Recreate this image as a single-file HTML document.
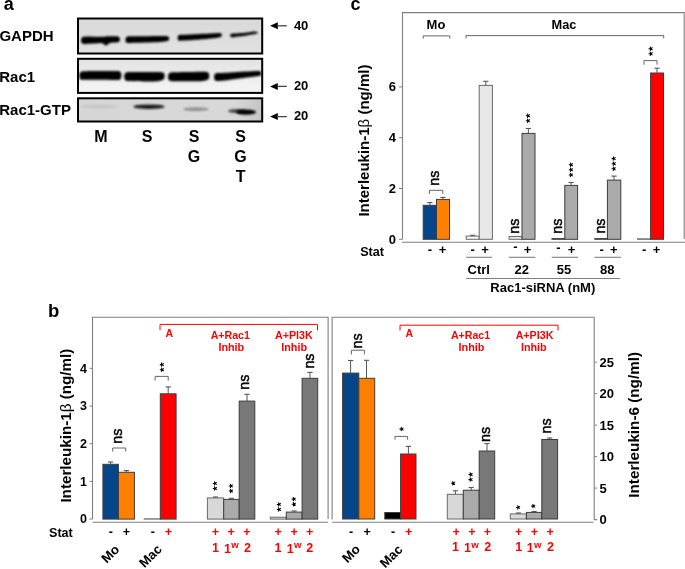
<!DOCTYPE html>
<html><head><meta charset="utf-8"><style>
html,body{margin:0;padding:0;background:#fff;overflow:hidden;}
svg{display:block;will-change:transform;}
text{font-family:"Liberation Sans", sans-serif;}
</style></head><body>
<svg width="685" height="569" viewBox="0 0 685 569">
<rect width="685" height="569" fill="#fff"/>
<text x="3.70" y="9.90" font-size="18" font-weight="bold" text-anchor="start" fill="#000" >a</text>
<text x="-0.60" y="41.30" font-size="15" font-weight="bold" text-anchor="start" fill="#000" >GAPDH</text>
<text x="-0.80" y="81.50" font-size="15" font-weight="bold" text-anchor="start" fill="#000" >Rac1</text>
<text x="-0.80" y="115.10" font-size="15" font-weight="bold" text-anchor="start" fill="#000" >Rac1-GTP</text>
<defs><filter id="bl" x="-20%" y="-50%" width="140%" height="200%"><feGaussianBlur stdDeviation="0.8"/></filter><filter id="bl2" x="-20%" y="-80%" width="140%" height="260%"><feGaussianBlur stdDeviation="1.3"/></filter><linearGradient id="g1" x1="0" y1="0" x2="0" y2="1"><stop offset="0" stop-color="#d8d8d8"/><stop offset="1" stop-color="#e2e2e2"/></linearGradient><linearGradient id="g2" x1="0" y1="0" x2="0" y2="1"><stop offset="0" stop-color="#e2e2e2"/><stop offset="1" stop-color="#f5f5f5"/></linearGradient><linearGradient id="g3" x1="0" y1="0" x2="1" y2="0"><stop offset="0" stop-color="#d6d6d6"/><stop offset="0.85" stop-color="#d8d8d8"/><stop offset="1" stop-color="#c4c4c4"/></linearGradient></defs>
<rect x="78" y="18.5" width="184.2" height="35" fill="url(#g1)" stroke="#000" stroke-width="2"/>
<rect x="78" y="58.8" width="184.2" height="34.1" fill="url(#g2)" stroke="#000" stroke-width="2"/>
<rect x="78" y="98.3" width="184.2" height="23.2" fill="url(#g3)" stroke="#000" stroke-width="2"/>
<path d="M81.00,40.40 C81.00,39.33 81.47,37.85 82.30,37.20 C83.13,36.55 83.88,36.58 86.00,36.50 C88.12,36.42 92.33,36.65 95.00,36.70 C97.67,36.75 100.17,36.85 102.00,36.80 C103.83,36.75 104.67,36.48 106.00,36.40 C107.33,36.32 108.33,36.32 110.00,36.30 C111.67,36.28 114.50,36.18 116.00,36.30 C117.50,36.42 118.33,36.50 119.00,37.00 C119.67,37.50 120.00,38.50 120.00,39.30 C120.00,40.10 119.67,41.25 119.00,41.80 C118.33,42.35 117.50,42.40 116.00,42.60 C114.50,42.80 111.67,42.50 110.00,43.00 C108.33,43.50 107.33,45.57 106.00,45.60 C104.67,45.63 103.83,43.53 102.00,43.20 C100.17,42.87 97.67,43.47 95.00,43.60 C92.33,43.73 88.12,44.00 86.00,44.00 C83.88,44.00 83.13,44.20 82.30,43.60 C81.47,43.00 81.00,41.47 81.00,40.40 Z" fill="#000" filter="url(#bl)" opacity="1"/>
<path d="M125.40,39.90 C125.40,38.90 125.87,37.40 126.80,36.80 C127.73,36.20 127.97,36.40 131.00,36.30 C134.03,36.20 140.17,36.25 145.00,36.20 C149.83,36.15 156.25,35.98 160.00,36.00 C163.75,36.02 165.97,35.87 167.50,36.30 C169.03,36.73 169.20,37.80 169.20,38.60 C169.20,39.40 169.03,40.55 167.50,41.10 C165.97,41.65 163.75,41.67 160.00,41.90 C156.25,42.13 149.83,42.33 145.00,42.50 C140.17,42.67 134.03,42.85 131.00,42.90 C127.97,42.95 127.73,43.30 126.80,42.80 C125.87,42.30 125.40,40.90 125.40,39.90 Z" fill="#000" filter="url(#bl)" opacity="1"/>
<path d="M177.60,37.90 C177.60,36.97 178.10,35.62 179.00,35.10 C179.90,34.58 179.50,35.00 183.00,34.80 C186.50,34.60 194.50,34.17 200.00,33.90 C205.50,33.63 212.58,33.32 216.00,33.20 C219.42,33.08 219.50,32.88 220.50,33.20 C221.50,33.52 222.00,34.45 222.00,35.10 C222.00,35.75 221.50,36.63 220.50,37.10 C219.50,37.57 219.42,37.52 216.00,37.90 C212.58,38.28 205.50,38.95 200.00,39.40 C194.50,39.85 186.50,40.38 183.00,40.60 C179.50,40.82 179.90,41.15 179.00,40.70 C178.10,40.25 177.60,38.83 177.60,37.90 Z" fill="#000" filter="url(#bl)" opacity="1"/>
<path d="M230.10,35.40 C230.10,34.82 230.58,34.03 231.40,33.70 C232.22,33.37 232.23,33.62 235.00,33.40 C237.77,33.18 244.67,32.70 248.00,32.40 C251.33,32.10 253.35,31.55 255.00,31.60 C256.65,31.65 257.90,32.28 257.90,32.70 C257.90,33.12 256.65,33.67 255.00,34.10 C253.35,34.53 251.33,34.82 248.00,35.30 C244.67,35.78 237.77,36.68 235.00,37.00 C232.23,37.32 232.22,37.47 231.40,37.20 C230.58,36.93 230.10,35.98 230.10,35.40 Z" fill="#000" filter="url(#bl)" opacity="1"/>
<path d="M79.30,75.60 C79.30,74.40 79.55,72.92 80.50,72.20 C81.45,71.48 81.75,71.48 85.00,71.30 C88.25,71.12 95.00,71.15 100.00,71.10 C105.00,71.05 111.67,70.92 115.00,71.00 C118.33,71.08 118.93,70.85 120.00,71.60 C121.07,72.35 121.40,74.17 121.40,75.50 C121.40,76.83 121.07,78.85 120.00,79.60 C118.93,80.35 118.33,79.97 115.00,80.00 C111.67,80.03 105.00,79.83 100.00,79.80 C95.00,79.77 88.25,79.87 85.00,79.80 C81.75,79.73 81.45,80.10 80.50,79.40 C79.55,78.70 79.30,76.80 79.30,75.60 Z" fill="#000" filter="url(#bl)" opacity="1"/>
<path d="M124.20,76.50 C124.20,75.28 124.53,73.65 125.50,72.90 C126.47,72.15 126.75,72.17 130.00,72.00 C133.25,71.83 140.33,71.90 145.00,71.90 C149.67,71.90 154.93,71.85 158.00,72.00 C161.07,72.15 162.30,72.13 163.40,72.80 C164.50,73.47 164.60,74.87 164.60,76.00 C164.60,77.13 164.50,78.73 163.40,79.60 C162.30,80.47 161.07,80.90 158.00,81.20 C154.93,81.50 149.67,81.43 145.00,81.40 C140.33,81.37 133.25,81.20 130.00,81.00 C126.75,80.80 126.47,80.95 125.50,80.20 C124.53,79.45 124.20,77.72 124.20,76.50 Z" fill="#000" filter="url(#bl)" opacity="1"/>
<path d="M168.00,76.80 C168.00,75.57 168.30,73.95 169.30,73.20 C170.30,72.45 170.55,72.50 174.00,72.30 C177.45,72.10 185.17,72.08 190.00,72.00 C194.83,71.92 200.00,71.73 203.00,71.80 C206.00,71.87 206.95,71.73 208.00,72.40 C209.05,73.07 209.30,74.60 209.30,75.80 C209.30,77.00 209.05,78.75 208.00,79.60 C206.95,80.45 206.00,80.62 203.00,80.90 C200.00,81.18 194.83,81.23 190.00,81.30 C185.17,81.37 177.45,81.42 174.00,81.30 C170.55,81.18 170.30,81.35 169.30,80.60 C168.30,79.85 168.00,78.03 168.00,76.80 Z" fill="#000" filter="url(#bl)" opacity="1"/>
<path d="M214.10,77.00 C214.10,75.87 214.32,74.27 215.30,73.60 C216.28,72.93 217.55,73.18 220.00,73.00 C222.45,72.82 225.83,72.73 230.00,72.50 C234.17,72.27 240.50,71.85 245.00,71.60 C249.50,71.35 254.42,71.03 257.00,71.00 C259.58,70.97 259.78,71.00 260.50,71.40 C261.22,71.80 261.30,72.70 261.30,73.40 C261.30,74.10 261.22,75.12 260.50,75.60 C259.78,76.08 259.58,75.93 257.00,76.30 C254.42,76.67 249.50,77.22 245.00,77.80 C240.50,78.38 234.17,79.28 230.00,79.80 C225.83,80.32 222.45,80.80 220.00,80.90 C217.55,81.00 216.28,81.05 215.30,80.40 C214.32,79.75 214.10,78.13 214.10,77.00 Z" fill="#000" filter="url(#bl)" opacity="1"/>
<ellipse cx="99" cy="106.6" rx="19" ry="2.0" fill="#b0b0b0" filter="url(#bl2)" opacity="0.4"/>
<ellipse cx="149" cy="106.7" rx="15.5" ry="2.3" fill="#111" filter="url(#bl2)" opacity="0.95"/>
<ellipse cx="196" cy="109.2" rx="12.5" ry="1.9" fill="#808080" filter="url(#bl2)" opacity="0.8"/>
<ellipse cx="237" cy="111.0" rx="9" ry="2.0" fill="#3a3a3a" filter="url(#bl2)" opacity="0.9"/>
<ellipse cx="246" cy="112.2" rx="10" ry="2.6" fill="#000" filter="url(#bl2)"/>
<path d="M270.1,25.8 L277.8,22.3 L277.8,29.3 Z" fill="#000"/>
<line x1="277" y1="25.8" x2="286.8" y2="25.8" stroke="#444" stroke-width="1.3"/>
<text x="293.90" y="29.70" font-size="13" font-weight="bold" text-anchor="start" fill="#000" >40</text>
<path d="M270.1,86.4 L277.8,82.9 L277.8,89.9 Z" fill="#000"/>
<line x1="277" y1="86.4" x2="286.8" y2="86.4" stroke="#444" stroke-width="1.3"/>
<text x="293.90" y="89.60" font-size="13" font-weight="bold" text-anchor="start" fill="#000" >20</text>
<path d="M270.1,116.6 L277.8,113.1 L277.8,120.1 Z" fill="#000"/>
<line x1="277" y1="116.6" x2="286.8" y2="116.6" stroke="#444" stroke-width="1.3"/>
<text x="293.90" y="120.20" font-size="13" font-weight="bold" text-anchor="start" fill="#000" >20</text>
<text x="101.00" y="142.20" font-size="16" font-weight="bold" text-anchor="middle" fill="#000" >M</text>
<text x="147.20" y="142.20" font-size="16" font-weight="bold" text-anchor="middle" fill="#000" >S</text>
<text x="194.00" y="142.20" font-size="16" font-weight="bold" text-anchor="middle" fill="#000" >S</text>
<text x="194.00" y="162.20" font-size="16" font-weight="bold" text-anchor="middle" fill="#000" >G</text>
<text x="240.60" y="142.20" font-size="16" font-weight="bold" text-anchor="middle" fill="#000" >S</text>
<text x="240.60" y="162.20" font-size="16" font-weight="bold" text-anchor="middle" fill="#000" >G</text>
<text x="240.60" y="182.20" font-size="16" font-weight="bold" text-anchor="middle" fill="#000" >T</text>
<text x="350.40" y="9.90" font-size="18" font-weight="bold" text-anchor="start" fill="#000" >c</text>
<path d="M402.5,239.3 V12.6 H684.2 V239" fill="none" stroke="#808080" stroke-width="1.1"/>
<line x1="402" y1="242.2" x2="685" y2="242.2" stroke="#808080" stroke-width="1.1"/>
<line x1="399" y1="239.3" x2="402.5" y2="239.3" stroke="#808080" stroke-width="1"/>
<text x="396.00" y="243.70" font-size="13" font-weight="bold" text-anchor="end" fill="#000" >0</text>
<line x1="399" y1="188.5" x2="402.5" y2="188.5" stroke="#808080" stroke-width="1"/>
<text x="396.00" y="192.90" font-size="13" font-weight="bold" text-anchor="end" fill="#000" >2</text>
<line x1="399" y1="137.70000000000002" x2="402.5" y2="137.70000000000002" stroke="#808080" stroke-width="1"/>
<text x="396.00" y="142.10" font-size="13" font-weight="bold" text-anchor="end" fill="#000" >4</text>
<line x1="399" y1="86.90000000000003" x2="402.5" y2="86.90000000000003" stroke="#808080" stroke-width="1"/>
<text x="396.00" y="91.30" font-size="13" font-weight="bold" text-anchor="end" fill="#000" >6</text>
<text transform="translate(368.90,216.60) rotate(-90)" font-size="15" font-weight="bold" text-anchor="start" fill="#000" >Interleukin-1<tspan font-weight="normal">β</tspan> (ng/ml)</text>
<rect x="423.2" y="205.3" width="13.30" height="34.00" fill="#064589" stroke="#3c3c3c" stroke-width="1"/>
<rect x="436.5" y="199.4" width="13.00" height="39.90" fill="#ff8000" stroke="#3c3c3c" stroke-width="1"/>
<rect x="466.2" y="236.1" width="13.00" height="3.20" fill="#f8f8f8" stroke="#6a6a6a" stroke-width="1"/>
<rect x="479.2" y="85.4" width="13.20" height="153.90" fill="#e8e8e8" stroke="#6a6a6a" stroke-width="1"/>
<rect x="509.1" y="236.5" width="12.90" height="2.80" fill="#e8e8e8" stroke="#6a6a6a" stroke-width="1"/>
<rect x="522.0" y="133.4" width="13.00" height="105.90" fill="#aaaaaa" stroke="#3c3c3c" stroke-width="1"/>
<rect x="552.0" y="238.6" width="12.80" height="0.70" fill="#aaaaaa" stroke="#3c3c3c" stroke-width="1"/>
<rect x="564.8" y="185.4" width="12.80" height="53.90" fill="#aaaaaa" stroke="#3c3c3c" stroke-width="1"/>
<rect x="594.8" y="238.6" width="12.60" height="0.70" fill="#aaaaaa" stroke="#3c3c3c" stroke-width="1"/>
<rect x="607.4" y="180.1" width="13.40" height="59.20" fill="#aaaaaa" stroke="#3c3c3c" stroke-width="1"/>
<rect x="637.5" y="238.8" width="13.10" height="0.50" fill="#eeeeee" stroke="#6a6a6a" stroke-width="1"/>
<rect x="650.6" y="73.0" width="12.90" height="166.30" fill="#ff0000" stroke="#3c3c3c" stroke-width="1"/>
<line x1="429.9" y1="205.3" x2="429.9" y2="202.5" stroke="#555" stroke-width="1"/>
<line x1="427.29999999999995" y1="202.5" x2="432.5" y2="202.5" stroke="#555" stroke-width="1.1"/>
<line x1="442.9" y1="199.4" x2="442.9" y2="197.4" stroke="#555" stroke-width="1"/>
<line x1="440.29999999999995" y1="197.4" x2="445.5" y2="197.4" stroke="#555" stroke-width="1.1"/>
<line x1="485.8" y1="85.4" x2="485.8" y2="81.3" stroke="#555" stroke-width="1"/>
<line x1="483.2" y1="81.3" x2="488.40000000000003" y2="81.3" stroke="#555" stroke-width="1.1"/>
<line x1="528.4" y1="133.4" x2="528.4" y2="128.5" stroke="#555" stroke-width="1"/>
<line x1="525.8" y1="128.5" x2="531.0" y2="128.5" stroke="#555" stroke-width="1.1"/>
<line x1="571.0" y1="185.4" x2="571.0" y2="182.5" stroke="#555" stroke-width="1"/>
<line x1="568.4" y1="182.5" x2="573.6" y2="182.5" stroke="#555" stroke-width="1.1"/>
<line x1="614.0" y1="180.1" x2="614.0" y2="176.1" stroke="#555" stroke-width="1"/>
<line x1="611.4" y1="176.1" x2="616.6" y2="176.1" stroke="#555" stroke-width="1.1"/>
<line x1="657.0" y1="73.0" x2="657.0" y2="68.2" stroke="#555" stroke-width="1"/>
<line x1="654.4" y1="68.2" x2="659.6" y2="68.2" stroke="#555" stroke-width="1.1"/>
<line x1="472.7" y1="236.1" x2="472.7" y2="235.3" stroke="#555" stroke-width="1"/>
<line x1="470.09999999999997" y1="235.3" x2="475.3" y2="235.3" stroke="#555" stroke-width="1.1"/>
<text x="436.00" y="28.90" font-size="13" font-weight="bold" text-anchor="middle" fill="#000" >Mo</text>
<path d="M423.2,38.6 V35.9 H449.8 V38.6" fill="none" stroke="#666" stroke-width="1"/>
<text x="564.00" y="29.00" font-size="12.8" font-weight="bold" text-anchor="middle" fill="#000" >Mac</text>
<path d="M466,38.4 V35.6 H663.7 V38.4" fill="none" stroke="#666" stroke-width="1"/>
<path d="M429.4,194 V190.3 H442.8 V194" fill="none" stroke="#666" stroke-width="1"/>
<text transform="translate(439.15,185.64) rotate(-90)" font-size="14.2" font-weight="normal" text-anchor="start" fill="#000" stroke="#000" stroke-width="0.45">ns</text>
<text transform="translate(518.75,233.74) rotate(-90)" font-size="14.2" font-weight="normal" text-anchor="start" fill="#000" stroke="#000" stroke-width="0.45">ns</text>
<text transform="translate(562.45,233.74) rotate(-90)" font-size="14.2" font-weight="normal" text-anchor="start" fill="#000" stroke="#000" stroke-width="0.45">ns</text>
<text transform="translate(605.45,233.54) rotate(-90)" font-size="14.2" font-weight="normal" text-anchor="start" fill="#000" stroke="#000" stroke-width="0.45">ns</text>
<path d="M528.00,120.80 L525.80,120.80 M528.00,120.80 L527.32,118.71 M528.00,120.80 L529.78,119.51 M528.00,120.80 L529.78,122.09 M528.00,120.80 L527.32,122.89 M528.00,115.70 L525.80,115.70 M528.00,115.70 L527.32,113.61 M528.00,115.70 L529.78,114.41 M528.00,115.70 L529.78,116.99 M528.00,115.70 L527.32,117.79 " stroke="#000" stroke-width="1.05" stroke-linecap="butt" fill="none"/>
<path d="M571.00,174.90 L568.80,174.90 M571.00,174.90 L570.32,172.81 M571.00,174.90 L572.78,173.61 M571.00,174.90 L572.78,176.19 M571.00,174.90 L570.32,176.99 M571.00,169.80 L568.80,169.80 M571.00,169.80 L570.32,167.71 M571.00,169.80 L572.78,168.51 M571.00,169.80 L572.78,171.09 M571.00,169.80 L570.32,171.89 M571.00,164.70 L568.80,164.70 M571.00,164.70 L570.32,162.61 M571.00,164.70 L572.78,163.41 M571.00,164.70 L572.78,165.99 M571.00,164.70 L570.32,166.79 " stroke="#000" stroke-width="1.05" stroke-linecap="butt" fill="none"/>
<path d="M613.80,168.80 L611.60,168.80 M613.80,168.80 L613.12,166.71 M613.80,168.80 L615.58,167.51 M613.80,168.80 L615.58,170.09 M613.80,168.80 L613.12,170.89 M613.80,163.70 L611.60,163.70 M613.80,163.70 L613.12,161.61 M613.80,163.70 L615.58,162.41 M613.80,163.70 L615.58,164.99 M613.80,163.70 L613.12,165.79 M613.80,158.60 L611.60,158.60 M613.80,158.60 L613.12,156.51 M613.80,158.60 L615.58,157.31 M613.80,158.60 L615.58,159.89 M613.80,158.60 L613.12,160.69 " stroke="#000" stroke-width="1.05" stroke-linecap="butt" fill="none"/>
<path d="M650.75,53.80 L648.55,53.80 M650.75,53.80 L650.07,51.71 M650.75,53.80 L652.53,52.51 M650.75,53.80 L652.53,55.09 M650.75,53.80 L650.07,55.89 M650.75,48.70 L648.55,48.70 M650.75,48.70 L650.07,46.61 M650.75,48.70 L652.53,47.41 M650.75,48.70 L652.53,49.99 M650.75,48.70 L650.07,50.79 " stroke="#000" stroke-width="1.05" stroke-linecap="butt" fill="none"/>
<path d="M644,64.7 V60.6 H657 V64.7" fill="none" stroke="#666" stroke-width="1"/>
<text x="360.20" y="256.40" font-size="12.6" font-weight="bold" text-anchor="start" fill="#000" >Stat</text>
<text x="430.00" y="253.50" font-size="13" font-weight="bold" text-anchor="middle" fill="#000" >-</text>
<text x="442.50" y="253.80" font-size="13" font-weight="bold" text-anchor="middle" fill="#000" >+</text>
<text x="472.70" y="253.50" font-size="13" font-weight="bold" text-anchor="middle" fill="#000" >-</text>
<text x="485.00" y="253.80" font-size="13" font-weight="bold" text-anchor="middle" fill="#000" >+</text>
<text x="515.50" y="251.00" font-size="13" font-weight="bold" text-anchor="middle" fill="#000" >-</text>
<text x="527.60" y="253.80" font-size="13" font-weight="bold" text-anchor="middle" fill="#000" >+</text>
<text x="558.40" y="251.50" font-size="13" font-weight="bold" text-anchor="middle" fill="#000" >-</text>
<text x="571.60" y="253.80" font-size="13" font-weight="bold" text-anchor="middle" fill="#000" >+</text>
<text x="601.60" y="253.50" font-size="13" font-weight="bold" text-anchor="middle" fill="#000" >-</text>
<text x="613.90" y="253.80" font-size="13" font-weight="bold" text-anchor="middle" fill="#000" >+</text>
<text x="644.20" y="253.50" font-size="13" font-weight="bold" text-anchor="middle" fill="#000" >-</text>
<text x="656.50" y="253.80" font-size="13" font-weight="bold" text-anchor="middle" fill="#000" >+</text>
<line x1="466.2" y1="257.3" x2="492.1" y2="257.3" stroke="#808080" stroke-width="1.1"/>
<line x1="508.7" y1="257.3" x2="535.4" y2="257.3" stroke="#808080" stroke-width="1.1"/>
<line x1="551.7" y1="257.3" x2="578.1" y2="257.3" stroke="#808080" stroke-width="1.1"/>
<line x1="594.5" y1="257.3" x2="620.9" y2="257.3" stroke="#808080" stroke-width="1.1"/>
<text x="478.80" y="274.00" font-size="13" font-weight="bold" text-anchor="middle" fill="#000" >Ctrl</text>
<text x="521.80" y="274.00" font-size="13" font-weight="bold" text-anchor="middle" fill="#000" >22</text>
<text x="564.00" y="274.00" font-size="13" font-weight="bold" text-anchor="middle" fill="#000" >55</text>
<text x="607.30" y="274.00" font-size="13" font-weight="bold" text-anchor="middle" fill="#000" >88</text>
<line x1="466.2" y1="278.5" x2="620.2" y2="278.5" stroke="#808080" stroke-width="1.1"/>
<text x="542.80" y="292.20" font-size="13" font-weight="bold" text-anchor="middle" fill="#000" >Rac1-siRNA (nM)</text>
<text x="47.90" y="316.60" font-size="18.5" font-weight="bold" text-anchor="start" fill="#000" >b</text>
<path d="M92.5,519.1 V317.3 H328.1 V519.1" fill="none" stroke="#808080" stroke-width="1.1"/>
<line x1="92.5" y1="522.3" x2="328.1" y2="522.3" stroke="#808080" stroke-width="1.1"/>
<line x1="89.5" y1="519.1" x2="92.5" y2="519.1" stroke="#808080" stroke-width="1"/>
<text x="87.00" y="523.40" font-size="12.5" font-weight="bold" text-anchor="end" fill="#000" >0</text>
<line x1="89.5" y1="481.40000000000003" x2="92.5" y2="481.40000000000003" stroke="#808080" stroke-width="1"/>
<text x="87.00" y="485.70" font-size="12.5" font-weight="bold" text-anchor="end" fill="#000" >1</text>
<line x1="89.5" y1="443.70000000000005" x2="92.5" y2="443.70000000000005" stroke="#808080" stroke-width="1"/>
<text x="87.00" y="448.00" font-size="12.5" font-weight="bold" text-anchor="end" fill="#000" >2</text>
<line x1="89.5" y1="406.0" x2="92.5" y2="406.0" stroke="#808080" stroke-width="1"/>
<text x="87.00" y="410.30" font-size="12.5" font-weight="bold" text-anchor="end" fill="#000" >3</text>
<line x1="89.5" y1="368.3" x2="92.5" y2="368.3" stroke="#808080" stroke-width="1"/>
<text x="87.00" y="372.60" font-size="12.5" font-weight="bold" text-anchor="end" fill="#000" >4</text>
<text transform="translate(71.10,502.60) rotate(-90)" font-size="15.2" font-weight="bold" text-anchor="start" fill="#000" >Interleukin-1<tspan font-weight="normal">β</tspan> (ng/ml)</text>
<rect x="102.9" y="464.3" width="15.50" height="54.80" fill="#064589" stroke="#3c3c3c" stroke-width="1"/>
<rect x="118.4" y="472.3" width="16.00" height="46.80" fill="#ff8000" stroke="#3c3c3c" stroke-width="1"/>
<rect x="144.2" y="518.8" width="16.10" height="0.30" fill="#eeeeee" stroke="#6a6a6a" stroke-width="1"/>
<rect x="160.3" y="393.8" width="15.80" height="125.30" fill="#ff0000" stroke="#3c3c3c" stroke-width="1"/>
<rect x="207.4" y="497.9" width="16.30" height="21.20" fill="#d8d8d8" stroke="#6a6a6a" stroke-width="1"/>
<rect x="223.7" y="499.4" width="15.50" height="19.70" fill="#aaaaaa" stroke="#3c3c3c" stroke-width="1"/>
<rect x="239.2" y="401.1" width="15.60" height="118.00" fill="#787878" stroke="#3c3c3c" stroke-width="1"/>
<rect x="270.3" y="517.2" width="16.00" height="1.90" fill="#d8d8d8" stroke="#6a6a6a" stroke-width="1"/>
<rect x="286.3" y="512.1" width="15.80" height="7.00" fill="#aaaaaa" stroke="#3c3c3c" stroke-width="1"/>
<rect x="302.1" y="378.3" width="15.60" height="140.80" fill="#787878" stroke="#3c3c3c" stroke-width="1"/>
<line x1="110.6" y1="464.3" x2="110.6" y2="462.0" stroke="#555" stroke-width="1"/>
<line x1="108.0" y1="462.0" x2="113.19999999999999" y2="462.0" stroke="#555" stroke-width="1.1"/>
<line x1="126.4" y1="472.3" x2="126.4" y2="470.6" stroke="#555" stroke-width="1"/>
<line x1="123.80000000000001" y1="470.6" x2="129.0" y2="470.6" stroke="#555" stroke-width="1.1"/>
<line x1="168.2" y1="393.8" x2="168.2" y2="386.9" stroke="#555" stroke-width="1"/>
<line x1="165.6" y1="386.9" x2="170.79999999999998" y2="386.9" stroke="#555" stroke-width="1.1"/>
<line x1="247.0" y1="401.1" x2="247.0" y2="394.3" stroke="#555" stroke-width="1"/>
<line x1="244.4" y1="394.3" x2="249.6" y2="394.3" stroke="#555" stroke-width="1.1"/>
<line x1="310.0" y1="378.3" x2="310.0" y2="372.4" stroke="#555" stroke-width="1"/>
<line x1="307.4" y1="372.4" x2="312.6" y2="372.4" stroke="#555" stroke-width="1.1"/>
<line x1="215.5" y1="497.9" x2="215.5" y2="497.0" stroke="#555" stroke-width="1"/>
<line x1="212.9" y1="497.0" x2="218.1" y2="497.0" stroke="#555" stroke-width="1.1"/>
<line x1="231.4" y1="499.4" x2="231.4" y2="498.3" stroke="#555" stroke-width="1"/>
<line x1="228.8" y1="498.3" x2="234.0" y2="498.3" stroke="#555" stroke-width="1.1"/>
<line x1="294.2" y1="512.1" x2="294.2" y2="511.0" stroke="#555" stroke-width="1"/>
<line x1="291.59999999999997" y1="511.0" x2="296.8" y2="511.0" stroke="#555" stroke-width="1.1"/>
<path d="M112.7,451.6 V448 H125.7 V451.6" fill="none" stroke="#666" stroke-width="1"/>
<text transform="translate(121.85,443.64) rotate(-90)" font-size="14.2" font-weight="normal" text-anchor="start" fill="#000" stroke="#000" stroke-width="0.45">ns</text>
<path d="M155.1,380.6 V376.4 H168.2 V380.6" fill="none" stroke="#666" stroke-width="1"/>
<path d="M162.00,369.70 L159.80,369.70 M162.00,369.70 L161.32,367.61 M162.00,369.70 L163.78,368.41 M162.00,369.70 L163.78,370.99 M162.00,369.70 L161.32,371.79 M162.00,364.60 L159.80,364.60 M162.00,364.60 L161.32,362.51 M162.00,364.60 L163.78,363.31 M162.00,364.60 L163.78,365.89 M162.00,364.60 L161.32,366.69 " stroke="#000" stroke-width="1.05" stroke-linecap="butt" fill="none"/>
<path d="M215.00,488.50 L212.80,488.50 M215.00,488.50 L214.32,486.41 M215.00,488.50 L216.78,487.21 M215.00,488.50 L216.78,489.79 M215.00,488.50 L214.32,490.59 M215.00,483.40 L212.80,483.40 M215.00,483.40 L214.32,481.31 M215.00,483.40 L216.78,482.11 M215.00,483.40 L216.78,484.69 M215.00,483.40 L214.32,485.49 " stroke="#000" stroke-width="1.05" stroke-linecap="butt" fill="none"/>
<path d="M231.00,491.00 L228.80,491.00 M231.00,491.00 L230.32,488.91 M231.00,491.00 L232.78,489.71 M231.00,491.00 L232.78,492.29 M231.00,491.00 L230.32,493.09 M231.00,485.90 L228.80,485.90 M231.00,485.90 L230.32,483.81 M231.00,485.90 L232.78,484.61 M231.00,485.90 L232.78,487.19 M231.00,485.90 L230.32,487.99 " stroke="#000" stroke-width="1.05" stroke-linecap="butt" fill="none"/>
<text transform="translate(249.45,389.64) rotate(-90)" font-size="14.2" font-weight="normal" text-anchor="start" fill="#000" stroke="#000" stroke-width="0.45">ns</text>
<path d="M279.00,509.50 L276.80,509.50 M279.00,509.50 L278.32,507.41 M279.00,509.50 L280.78,508.21 M279.00,509.50 L280.78,510.79 M279.00,509.50 L278.32,511.59 M279.00,504.40 L276.80,504.40 M279.00,504.40 L278.32,502.31 M279.00,504.40 L280.78,503.11 M279.00,504.40 L280.78,505.69 M279.00,504.40 L278.32,506.49 " stroke="#000" stroke-width="1.05" stroke-linecap="butt" fill="none"/>
<path d="M293.90,504.20 L291.70,504.20 M293.90,504.20 L293.22,502.11 M293.90,504.20 L295.68,502.91 M293.90,504.20 L295.68,505.49 M293.90,504.20 L293.22,506.29 M293.90,499.10 L291.70,499.10 M293.90,499.10 L293.22,497.01 M293.90,499.10 L295.68,497.81 M293.90,499.10 L295.68,500.39 M293.90,499.10 L293.22,501.19 " stroke="#000" stroke-width="1.05" stroke-linecap="butt" fill="none"/>
<text transform="translate(313.65,368.54) rotate(-90)" font-size="14.2" font-weight="normal" text-anchor="start" fill="#000" stroke="#000" stroke-width="0.45">ns</text>
<path d="M160,330.1 V324.4 H317.5 V330.1" fill="none" stroke="#ff0000" stroke-width="1"/>
<text x="169.20" y="336.50" font-size="10.5" font-weight="bold" text-anchor="middle" fill="#ff0000" >A</text>
<text x="230.30" y="338.60" font-size="10.6" font-weight="bold" text-anchor="middle" fill="#ff0000" >A+Rac1</text>
<text x="231.30" y="350.90" font-size="10.8" font-weight="bold" text-anchor="middle" fill="#ff0000" >Inhib</text>
<text x="293.80" y="338.60" font-size="10.7" font-weight="bold" text-anchor="middle" fill="#ff0000" >A+PI3K</text>
<text x="294.10" y="350.90" font-size="10.8" font-weight="bold" text-anchor="middle" fill="#ff0000" >Inhib</text>
<text x="49.00" y="536.50" font-size="12.6" font-weight="bold" text-anchor="start" fill="#000" >Stat</text>
<text x="110.90" y="536.00" font-size="12.5" font-weight="bold" text-anchor="middle" fill="#000" >-</text>
<text x="126.30" y="536.00" font-size="12.5" font-weight="bold" text-anchor="middle" fill="#000" >+</text>
<text x="152.90" y="536.00" font-size="12.5" font-weight="bold" text-anchor="middle" fill="#000" >-</text>
<text x="168.40" y="536.00" font-size="12.5" font-weight="bold" text-anchor="middle" fill="#ff0000" >+</text>
<text x="215.30" y="536.00" font-size="12.5" font-weight="bold" text-anchor="middle" fill="#ff0000" >+</text>
<text x="231.10" y="536.00" font-size="12.5" font-weight="bold" text-anchor="middle" fill="#ff0000" >+</text>
<text x="246.80" y="536.00" font-size="12.5" font-weight="bold" text-anchor="middle" fill="#ff0000" >+</text>
<text x="278.20" y="536.00" font-size="12.5" font-weight="bold" text-anchor="middle" fill="#ff0000" >+</text>
<text x="294.10" y="536.00" font-size="12.5" font-weight="bold" text-anchor="middle" fill="#ff0000" >+</text>
<text x="309.70" y="536.00" font-size="12.5" font-weight="bold" text-anchor="middle" fill="#ff0000" >+</text>
<text x="215.60" y="551.50" font-size="12.5" font-weight="bold" text-anchor="middle" fill="#ff0000" >1</text>
<text x="227.60" y="552.70" font-size="12.5" font-weight="bold" text-anchor="middle" fill="#ff0000" >1</text>
<text x="235.10" y="548.20" font-size="9.6" font-weight="bold" text-anchor="middle" fill="#ff0000" >w</text>
<text x="247.50" y="551.50" font-size="12.5" font-weight="bold" text-anchor="middle" fill="#ff0000" >2</text>
<text x="278.00" y="551.50" font-size="12.5" font-weight="bold" text-anchor="middle" fill="#ff0000" >1</text>
<text x="290.30" y="552.70" font-size="12.5" font-weight="bold" text-anchor="middle" fill="#ff0000" >1</text>
<text x="297.80" y="548.20" font-size="9.6" font-weight="bold" text-anchor="middle" fill="#ff0000" >w</text>
<text x="309.80" y="551.50" font-size="12.5" font-weight="bold" text-anchor="middle" fill="#ff0000" >2</text>
<text transform="translate(106.80,563.80) rotate(-45)" font-size="13.2" font-weight="bold" text-anchor="start" fill="#000" >Mo</text>
<text transform="translate(144.50,568.30) rotate(-45)" font-size="13.2" font-weight="bold" text-anchor="start" fill="#000" >Mac</text>
<path d="M332.1,519.6 V317.3 H594.2 V519.6 H597" fill="none" stroke="#808080" stroke-width="1.1"/>
<line x1="332.1" y1="522.3" x2="593.5" y2="522.3" stroke="#808080" stroke-width="1.1"/>
<line x1="594.2" y1="488.1" x2="597" y2="488.1" stroke="#808080" stroke-width="1"/>
<line x1="594.2" y1="456.6" x2="597" y2="456.6" stroke="#808080" stroke-width="1"/>
<line x1="594.2" y1="425.1" x2="597" y2="425.1" stroke="#808080" stroke-width="1"/>
<line x1="594.2" y1="393.6" x2="597" y2="393.6" stroke="#808080" stroke-width="1"/>
<line x1="594.2" y1="362.1" x2="597" y2="362.1" stroke="#808080" stroke-width="1"/>
<text x="599.60" y="524.20" font-size="13" font-weight="bold" text-anchor="start" fill="#000" >0</text>
<text x="599.60" y="492.70" font-size="13" font-weight="bold" text-anchor="start" fill="#000" >5</text>
<text x="599.60" y="461.20" font-size="13" font-weight="bold" text-anchor="start" fill="#000" >10</text>
<text x="599.60" y="429.70" font-size="13" font-weight="bold" text-anchor="start" fill="#000" >15</text>
<text x="599.60" y="398.20" font-size="13" font-weight="bold" text-anchor="start" fill="#000" >20</text>
<text x="599.60" y="366.70" font-size="13" font-weight="bold" text-anchor="start" fill="#000" >25</text>
<text transform="translate(639.30,497.70) rotate(-90)" font-size="15.25" font-weight="bold" text-anchor="start" fill="#000" >Interleukin-6 (ng/ml)</text>
<rect x="342.6" y="373.1" width="16.20" height="145.90" fill="#064589" stroke="#3c3c3c" stroke-width="1"/>
<rect x="358.8" y="378.3" width="15.90" height="140.70" fill="#ff8000" stroke="#3c3c3c" stroke-width="1"/>
<rect x="384.8" y="512.5" width="15.80" height="6.50" fill="#000" stroke="#3c3c3c" stroke-width="1"/>
<rect x="400.6" y="454.0" width="15.40" height="65.00" fill="#ff0000" stroke="#3c3c3c" stroke-width="1"/>
<rect x="447.3" y="494.3" width="16.00" height="24.70" fill="#d8d8d8" stroke="#6a6a6a" stroke-width="1"/>
<rect x="463.3" y="490.2" width="15.90" height="28.80" fill="#aaaaaa" stroke="#3c3c3c" stroke-width="1"/>
<rect x="479.2" y="451.0" width="15.50" height="68.00" fill="#787878" stroke="#3c3c3c" stroke-width="1"/>
<rect x="510.3" y="513.9" width="16.10" height="5.10" fill="#d8d8d8" stroke="#6a6a6a" stroke-width="1"/>
<rect x="526.4" y="512.4" width="15.40" height="6.60" fill="#aaaaaa" stroke="#3c3c3c" stroke-width="1"/>
<rect x="541.8" y="439.5" width="15.80" height="79.50" fill="#787878" stroke="#3c3c3c" stroke-width="1"/>
<line x1="350.6" y1="373.1" x2="350.6" y2="360.5" stroke="#555" stroke-width="1"/>
<line x1="348.0" y1="360.5" x2="353.20000000000005" y2="360.5" stroke="#555" stroke-width="1.1"/>
<line x1="366.5" y1="378.3" x2="366.5" y2="360.3" stroke="#555" stroke-width="1"/>
<line x1="363.9" y1="360.3" x2="369.1" y2="360.3" stroke="#555" stroke-width="1.1"/>
<line x1="408.4" y1="454.0" x2="408.4" y2="446.4" stroke="#555" stroke-width="1"/>
<line x1="405.79999999999995" y1="446.4" x2="411.0" y2="446.4" stroke="#555" stroke-width="1.1"/>
<line x1="455.4" y1="494.3" x2="455.4" y2="490.8" stroke="#555" stroke-width="1"/>
<line x1="452.79999999999995" y1="490.8" x2="458.0" y2="490.8" stroke="#555" stroke-width="1.1"/>
<line x1="471.2" y1="490.2" x2="471.2" y2="487.5" stroke="#555" stroke-width="1"/>
<line x1="468.59999999999997" y1="487.5" x2="473.8" y2="487.5" stroke="#555" stroke-width="1.1"/>
<line x1="487.0" y1="451.0" x2="487.0" y2="443.6" stroke="#555" stroke-width="1"/>
<line x1="484.4" y1="443.6" x2="489.6" y2="443.6" stroke="#555" stroke-width="1.1"/>
<line x1="549.7" y1="439.5" x2="549.7" y2="438.0" stroke="#555" stroke-width="1"/>
<line x1="547.1" y1="438.0" x2="552.3000000000001" y2="438.0" stroke="#555" stroke-width="1.1"/>
<line x1="518.4" y1="513.9" x2="518.4" y2="513.0" stroke="#555" stroke-width="1"/>
<line x1="515.8" y1="513.0" x2="521.0" y2="513.0" stroke="#555" stroke-width="1.1"/>
<line x1="534.1" y1="512.4" x2="534.1" y2="511.5" stroke="#555" stroke-width="1"/>
<line x1="531.5" y1="511.5" x2="536.7" y2="511.5" stroke="#555" stroke-width="1.1"/>
<path d="M351.4,354.4 V350.2 H364.4 V354.4" fill="none" stroke="#666" stroke-width="1"/>
<text transform="translate(361.65,348.44) rotate(-90)" font-size="14.2" font-weight="normal" text-anchor="start" fill="#000" stroke="#000" stroke-width="0.45">ns</text>
<path d="M395.0,439.7 V436.4 H407.6 V439.7" fill="none" stroke="#666" stroke-width="1"/>
<path d="M401.70,429.10 L399.50,429.10 M401.70,429.10 L401.02,427.01 M401.70,429.10 L403.48,427.81 M401.70,429.10 L403.48,430.39 M401.70,429.10 L401.02,431.19 " stroke="#000" stroke-width="1.05" stroke-linecap="butt" fill="none"/>
<path d="M453.20,483.20 L451.00,483.20 M453.20,483.20 L452.52,481.11 M453.20,483.20 L454.98,481.91 M453.20,483.20 L454.98,484.49 M453.20,483.20 L452.52,485.29 " stroke="#000" stroke-width="1.05" stroke-linecap="butt" fill="none"/>
<path d="M470.70,479.60 L468.50,479.60 M470.70,479.60 L470.02,477.51 M470.70,479.60 L472.48,478.31 M470.70,479.60 L472.48,480.89 M470.70,479.60 L470.02,481.69 M470.70,474.50 L468.50,474.50 M470.70,474.50 L470.02,472.41 M470.70,474.50 L472.48,473.21 M470.70,474.50 L472.48,475.79 M470.70,474.50 L470.02,476.59 " stroke="#000" stroke-width="1.05" stroke-linecap="butt" fill="none"/>
<text transform="translate(490.35,441.94) rotate(-90)" font-size="14.2" font-weight="normal" text-anchor="start" fill="#000" stroke="#000" stroke-width="0.45">ns</text>
<path d="M518.20,507.40 L516.00,507.40 M518.20,507.40 L517.52,505.31 M518.20,507.40 L519.98,506.11 M518.20,507.40 L519.98,508.69 M518.20,507.40 L517.52,509.49 " stroke="#000" stroke-width="1.05" stroke-linecap="butt" fill="none"/>
<path d="M533.40,506.10 L531.20,506.10 M533.40,506.10 L532.72,504.01 M533.40,506.10 L535.18,504.81 M533.40,506.10 L535.18,507.39 M533.40,506.10 L532.72,508.19 " stroke="#000" stroke-width="1.05" stroke-linecap="butt" fill="none"/>
<text transform="translate(551.35,433.44) rotate(-90)" font-size="14.2" font-weight="normal" text-anchor="start" fill="#000" stroke="#000" stroke-width="0.45">ns</text>
<path d="M400,330.5 V325.2 H558 V330.5" fill="none" stroke="#ff0000" stroke-width="1"/>
<text x="409.30" y="336.70" font-size="10.5" font-weight="bold" text-anchor="middle" fill="#ff0000" >A</text>
<text x="470.50" y="338.60" font-size="10.6" font-weight="bold" text-anchor="middle" fill="#ff0000" >A+Rac1</text>
<text x="471.50" y="350.90" font-size="10.8" font-weight="bold" text-anchor="middle" fill="#ff0000" >Inhib</text>
<text x="534.50" y="338.60" font-size="10.7" font-weight="bold" text-anchor="middle" fill="#ff0000" >A+PI3K</text>
<text x="533.80" y="350.90" font-size="10.8" font-weight="bold" text-anchor="middle" fill="#ff0000" >Inhib</text>
<text x="351.00" y="536.00" font-size="12.5" font-weight="bold" text-anchor="middle" fill="#000" >-</text>
<text x="367.10" y="536.00" font-size="12.5" font-weight="bold" text-anchor="middle" fill="#000" >+</text>
<text x="393.20" y="536.00" font-size="12.5" font-weight="bold" text-anchor="middle" fill="#000" >-</text>
<text x="408.60" y="536.00" font-size="12.5" font-weight="bold" text-anchor="middle" fill="#ff0000" >+</text>
<text x="456.10" y="536.00" font-size="12.5" font-weight="bold" text-anchor="middle" fill="#ff0000" >+</text>
<text x="471.90" y="536.00" font-size="12.5" font-weight="bold" text-anchor="middle" fill="#ff0000" >+</text>
<text x="487.40" y="536.00" font-size="12.5" font-weight="bold" text-anchor="middle" fill="#ff0000" >+</text>
<text x="518.70" y="536.00" font-size="12.5" font-weight="bold" text-anchor="middle" fill="#ff0000" >+</text>
<text x="534.30" y="536.00" font-size="12.5" font-weight="bold" text-anchor="middle" fill="#ff0000" >+</text>
<text x="550.10" y="536.00" font-size="12.5" font-weight="bold" text-anchor="middle" fill="#ff0000" >+</text>
<text x="455.60" y="551.00" font-size="12.5" font-weight="bold" text-anchor="middle" fill="#ff0000" >1</text>
<text x="467.50" y="552.20" font-size="12.5" font-weight="bold" text-anchor="middle" fill="#ff0000" >1</text>
<text x="475.00" y="547.70" font-size="9.6" font-weight="bold" text-anchor="middle" fill="#ff0000" >w</text>
<text x="487.80" y="551.00" font-size="12.5" font-weight="bold" text-anchor="middle" fill="#ff0000" >2</text>
<text x="518.80" y="551.00" font-size="12.5" font-weight="bold" text-anchor="middle" fill="#ff0000" >1</text>
<text x="530.30" y="552.20" font-size="12.5" font-weight="bold" text-anchor="middle" fill="#ff0000" >1</text>
<text x="537.80" y="547.70" font-size="9.6" font-weight="bold" text-anchor="middle" fill="#ff0000" >w</text>
<text x="550.40" y="551.00" font-size="12.5" font-weight="bold" text-anchor="middle" fill="#ff0000" >2</text>
<text transform="translate(347.60,563.60) rotate(-45)" font-size="13.2" font-weight="bold" text-anchor="start" fill="#000" >Mo</text>
<text transform="translate(385.30,568.40) rotate(-45)" font-size="13.2" font-weight="bold" text-anchor="start" fill="#000" >Mac</text>
</svg>
</body></html>
